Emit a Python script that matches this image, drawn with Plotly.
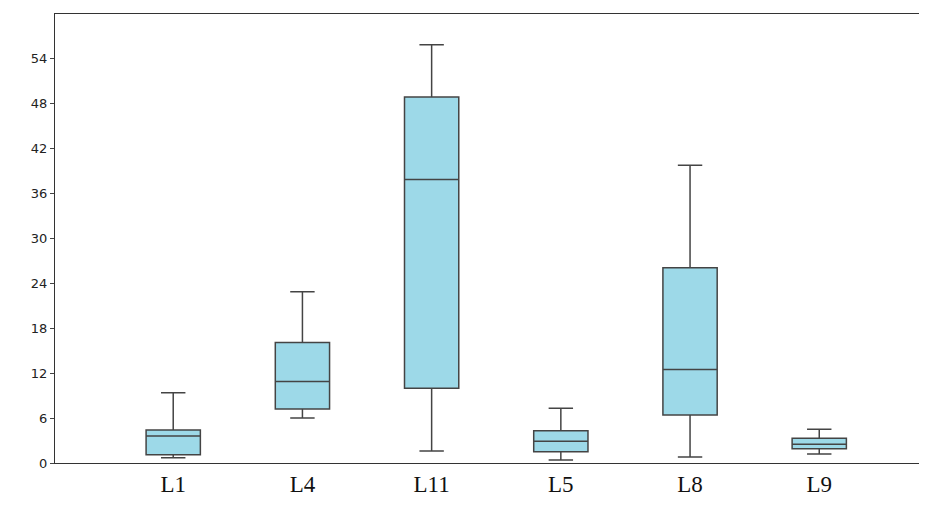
import plotly.graph_objects as go

categories = ["L1", "L4", "L11", "L5", "L8", "L9"]
lower = [0.7, 6.0, 1.6, 0.4, 0.8, 1.2]
q1 = [1.1, 7.2, 10.0, 1.5, 6.4, 1.9]
median = [3.6, 10.9, 37.9, 2.9, 12.5, 2.5]
q3 = [4.4, 16.1, 48.9, 4.3, 26.1, 3.3]
upper = [9.4, 22.9, 55.9, 7.3, 39.8, 4.5]
tick_vals = [0, 6, 12, 18, 24, 30, 36, 42, 48, 54]

fig = go.Figure(go.Box(
    x=categories, q1=q1, median=median, q3=q3,
    lowerfence=lower, upperfence=upper,
    fillcolor="#9dd9e8", line=dict(color="#444444", width=1.5),
    whiskerwidth=0.45, boxpoints=False, showlegend=False,
))
fig.update_layout(
    width=934, height=511, plot_bgcolor="white", paper_bgcolor="white",
    margin=dict(l=47, r=0, t=6, b=56), boxgap=0.4,
    xaxis=dict(range=[-0.915, 5.95], showline=True, linecolor="#333", mirror=True,
               showgrid=False, tickfont=dict(family="Liberation Serif", size=23, color="#111")),
    yaxis=dict(range=[0, 60], tickvals=tick_vals, showline=True, linecolor="#333", mirror=True,
               showgrid=False, zeroline=False, ticks="outside", ticklen=4,
               tickfont=dict(family="DejaVu Sans", size=13, color="#222")),
)
fig.write_html("out.html")
